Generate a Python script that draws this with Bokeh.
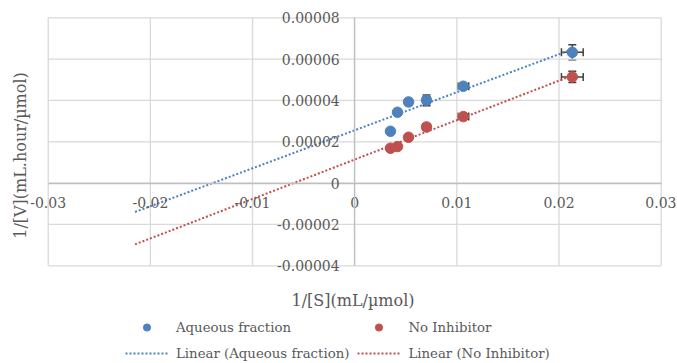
import numpy as np
from bokeh.plotting import figure
from bokeh.models import (ColumnDataSource, FixedTicker, Whisker, TeeHead, Label,
                          Legend, LegendItem, Range1d)
from bokeh.embed import file_html
from bokeh.resources import INLINE

# ---- data ----
inv_s = [0.0213, 0.01063, 0.00703, 0.00527, 0.00419, 0.0035]
aqueous = [0.0000633, 0.0000469, 0.0000401, 0.0000393, 0.0000343, 0.0000251]
aqueous_err = [0.0000036, 0.0000012, 0.0000026, 0.0000015, 0.0000008, 0.0000004]
no_inhib = [0.0000514, 0.0000322, 0.0000272, 0.0000222, 0.0000177, 0.0000169]
no_inhib_err = [0.0000027, 0.0000010, 0.0000014, 0.0000005, 0.0000005, 0.0000004]
x_err_frac = 0.05  # 5% error bars on 1/[S]

x_ticks = [-0.03, -0.02, -0.01, 0.0, 0.01, 0.02, 0.03]
x_tick_labels = ["-0.03", "-0.02", "-0.01", "0", "0.01", "0.02", "0.03"]
y_ticks = [-0.00004, -0.00002, 0.0, 0.00002, 0.00004, 0.00006, 0.00008]
y_tick_labels = ["-0.00004", "-0.00002", "0", "0.00002", "0.00004", "0.00006", "0.00008"]

series_names = ["Aqueous fraction", "No Inhibitor"]
x_title = "1/[S](mL/\u00b5mol)"
y_title = "1/[V](mL.hour/\u00b5mol)"
backward_forecast = 0.025

# ---- layout (pixels) ----
W, H = 676, 362
PX_L, PX_R = 47.7, 660.7     # pixel of first / last x tick
PY_T, PY_B = 17.3, 265.3     # pixel of top / bottom y tick
xs_per_px = (x_ticks[-1] - x_ticks[0]) / (PX_R - PX_L)
ys_per_px = (y_ticks[-1] - y_ticks[0]) / (PY_B - PY_T)
x_lo = x_ticks[0] - PX_L * xs_per_px
x_hi = x_ticks[-1] + (W - PX_R) * xs_per_px
y_hi = y_ticks[-1] + PY_T * ys_per_px
y_lo = y_ticks[0] - (H - PY_B) * ys_per_px


def px2x(px):
    return x_lo + px * xs_per_px


def px2y(py):
    return y_hi - py * ys_per_px


FONT = "DejaVu Serif"
TXT = "#595959"
BLUE = "#4F81BD"
RED = "#C0504D"
ERR = "#404040"
GRID = "#D9D9D9"

p = figure(width=W, height=H, output_backend="svg", toolbar_location=None,
           x_range=Range1d(x_lo, x_hi), y_range=Range1d(y_lo, y_hi),
           min_border_left=0, min_border_right=0, min_border_top=0, min_border_bottom=0)
p.outline_line_color = None
p.background_fill_color = "white"
p.border_fill_color = "white"
p.grid.visible = False

# gridlines limited to the tick extent
p.segment(x0=x_ticks, y0=[y_ticks[0]] * len(x_ticks), x1=x_ticks, y1=[y_ticks[-1]] * len(x_ticks),
          line_color=GRID, line_width=1.3)
p.segment(x0=[x_ticks[0]] * len(y_ticks), y0=y_ticks, x1=[x_ticks[-1]] * len(y_ticks), y1=y_ticks,
          line_color=GRID, line_width=1.3)

for ax, ticks, labels in ((p.xaxis[0], x_ticks, x_tick_labels), (p.yaxis[0], y_ticks, y_tick_labels)):
    ax.ticker = FixedTicker(ticks=ticks)
    ax.major_label_overrides = {t: l for t, l in zip(ticks, labels)}
    ax.fixed_location = 0
    ax.bounds = (ticks[0], ticks[-1])
    ax.major_tick_out = 0
    ax.major_tick_in = 0
    ax.minor_tick_out = 0
    ax.minor_tick_in = 0
    ax.axis_line_color = "#BFBFBF"
    ax.axis_line_width = 1.3
    ax.major_label_text_font = FONT
    ax.major_label_text_font_size = "14px"
    ax.major_label_text_color = TXT
p.xaxis.major_label_standoff = 14
p.yaxis.major_label_standoff = 15

x = np.array(inv_s)
renderers = []
for name, ys, yerr, col in ((series_names[0], aqueous, aqueous_err, BLUE),
                            (series_names[1], no_inhib, no_inhib_err, RED)):
    ys = np.array(ys)
    yerr = np.array(yerr)
    slope, icpt = np.polyfit(x, ys, 1)
    x0 = x.min() - backward_forecast
    x1 = x.max()
    lr = p.line([x0, x1], [slope * x0 + icpt, slope * x1 + icpt], line_color=col,
                line_width=2, line_dash="2 2")
    src = ColumnDataSource(dict(x=x, y=ys, yl=ys - yerr, yu=ys + yerr,
                                xl=x - x * x_err_frac, xu=x + x * x_err_frac))
    p.add_layout(Whisker(source=src, base="x", lower="yl", upper="yu", dimension="height",
                         line_color=ERR, line_width=1.5,
                         upper_head=TeeHead(size=8, line_color=ERR, line_width=1.5),
                         lower_head=TeeHead(size=8, line_color=ERR, line_width=1.5)))
    p.add_layout(Whisker(source=src, base="y", lower="xl", upper="xu", dimension="width",
                         line_color=ERR, line_width=1.5,
                         upper_head=TeeHead(size=8, line_color=ERR, line_width=1.5),
                         lower_head=TeeHead(size=8, line_color=ERR, line_width=1.5)))
    sr = p.scatter("x", "y", source=src, size=10.5, fill_color=col, line_color=col)
    renderers.append((name, sr, lr))

items = [LegendItem(label=renderers[0][0], renderers=[renderers[0][1]]),
         LegendItem(label=renderers[1][0], renderers=[renderers[1][1]]),
         LegendItem(label="Linear (" + renderers[0][0] + ")", renderers=[renderers[0][2]]),
         LegendItem(label="Linear (" + renderers[1][0] + ")", renderers=[renderers[1][2]])]
legend = Legend(items=items, location=(125, 0), orientation="horizontal", ncols=2,
                glyph_width=43, glyph_height=18, label_height=18, label_standoff=8,
                spacing=8, padding=0, margin=0, border_line_color=None,
                background_fill_alpha=0, label_text_font=FONT,
                label_text_font_size="13.3px", label_text_color=TXT)
p.add_layout(legend, "center")

p.add_layout(Label(x=px2x(352.5), y=px2y(300), text=x_title, text_font=FONT, text_font_size="16px",
                   text_color=TXT, text_align="center", text_baseline="middle"))
p.add_layout(Label(x=px2x(20), y=px2y(155), text=y_title, text_font=FONT, text_font_size="16px",
                   text_color=TXT, text_align="center", text_baseline="middle", angle=np.pi / 2))

open("out.html", "w").write(file_html(p, INLINE))
